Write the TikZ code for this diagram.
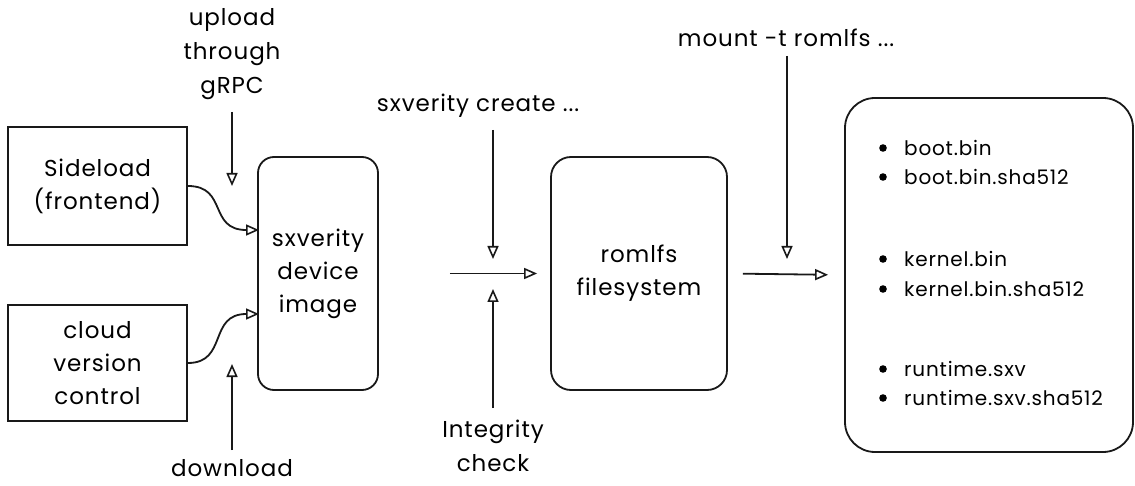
\documentclass[tikz,border=0pt]{standalone}
\usepackage{fontspec}
\setmainfont{Poppins}[LetterSpace=4]
\usetikzlibrary{arrows.meta}
\begin{document}
\begin{tikzpicture}[x=1pt,y=-1pt,
  ink/.style={line width=1.8pt, draw=black!90},
  plainbox/.style={ink, rectangle, inner sep=0pt, align=center,
    font=\fontsize{23}{33}\selectfont},
  roundbox/.style={plainbox, rounded corners=16pt},
  label/.style={align=center, inner sep=0pt, font=\fontsize{23}{34}\selectfont},
  item/.style={anchor=west, inner sep=0pt, font=\fontsize{20}{22}\selectfont},
  arr/.style={ink, -{Triangle[open, length=13pt, width=11pt, line width=1.6pt]}},
]
\useasboundingbox (0,0) rectangle (1135,486);

% boxes
\node[plainbox, minimum width=179pt, minimum height=118pt] (side) at (97.5,186) {Sideload\\(frontend)};
\node[plainbox, minimum width=179pt, minimum height=116pt] (cloud) at (97.5,363) {cloud\\version\\control};
\node[roundbox, minimum width=120pt, minimum height=233pt] (sx) at (318,273.5) {sxverity\\device\\image};
\node[roundbox, minimum width=176pt, minimum height=233pt, rounded corners=20pt] (rom) at (639,273.5) {romlfs\\filesystem};
\node[roundbox, minimum width=288pt, minimum height=354pt, rounded corners=30pt] (files) at (989,275) {};

% file list
\foreach \y/\t in {148/boot.bin, 177/boot.bin.sha512, 259/kernel.bin, 289/kernel.bin.sha512, 369/runtime.sxv, 398/runtime.sxv.sha512} {
  \fill (883,\y) circle (3.8pt);
  \node[item] at (904,\y) {\t};
}

% command and step labels
\node[label] (upl) at (232,54) {upload\\through\\gRPC};
\node[label] (dl) at (232,468) {download};
\node[label] (create) at (478,106) {sxverity create ...};
\node[label] (integ) at (493,446) {Integrity\\check};
\node[label] (mount) at (786,38) {mount -t romlfs ...};

% arrow ends
\coordinate (uplA) at (232,112);
\coordinate (uplB) at (232,186);
\coordinate (dlA) at (232,450);
\coordinate (dlB) at (232,364);
\coordinate (crA) at (493,130);
\coordinate (crB) at (493,259);
\coordinate (inA) at (493,408);
\coordinate (inB) at (493,289);
\coordinate (moA) at (787,56);
\coordinate (moB) at (787,259);
\coordinate (sxin1) at (259,230);
\coordinate (sxin2) at (259,314);

% connectors
\draw[arr] (uplA) -- (uplB);
\draw[arr] (dlA) -- (dlB);
\draw[arr] (crA) -- (crB);
\draw[arr] (inA) -- (inB);
\draw[arr] (moA) -- (moB);
\draw[arr] (side.east) .. controls (228,186) and (208,230) .. (sxin1);
\draw[arr] (cloud.east) .. controls (228,363) and (208,314) .. (sxin2);
\draw[arr, shorten <=71pt, shorten >=13pt] (sx.east) -- (rom.west);
\draw[arr, shorten <=15pt, shorten >=16pt] (rom.east) -- (files.west);
\end{tikzpicture}
\end{document}
